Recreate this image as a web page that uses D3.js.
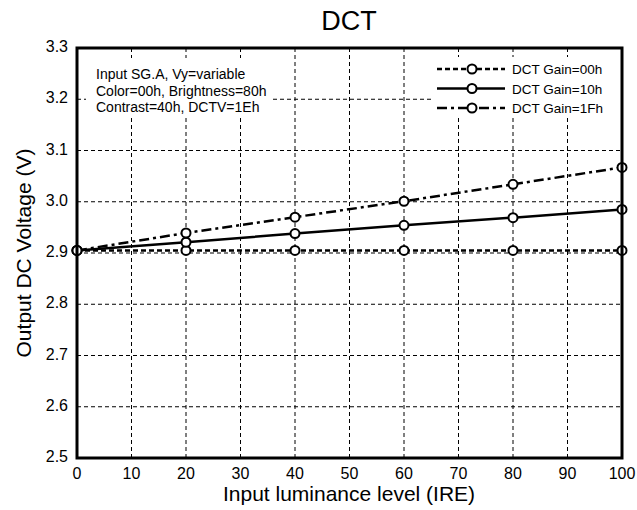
<!DOCTYPE html>
<html>
<head>
<meta charset="utf-8">
<script src="https://cdn.jsdelivr.net/npm/d3@7/dist/d3.min.js"></script>
<style>
  body { margin: 0; background: #fff; }
  text { font-family: "Liberation Sans", Arial, sans-serif; fill: #000; }
</style>
</head>
<body>
<svg id="chart"></svg>
<script>
const width = 637;
const height = 510;
const margin = { top: 48, right: 15, bottom: 52, left: 77 };

// data
const levels = [0, 20, 40, 60, 80, 100];
const gain00 = [2.905, 2.905, 2.905, 2.905, 2.905, 2.905];
const gain10 = [2.905, 2.921, 2.938, 2.954, 2.969, 2.985];
const gain1F = [2.905, 2.939, 2.970, 3.001, 3.034, 3.067];
const seriesNames = ["DCT Gain=00h", "DCT Gain=10h", "DCT Gain=1Fh"];
const xTicks = [0, 10, 20, 30, 40, 50, 60, 70, 80, 90, 100];
const yTicks = [2.5, 2.6, 2.7, 2.8, 2.9, 3.0, 3.1, 3.2, 3.3];
const notes = ["Input SG.A, Vy=variable", "Color=00h, Brightness=80h", "Contrast=40h, DCTV=1Eh"];

const dashes = ["5,3", null, "10,4,3,4"];
const series = [gain00, gain10, gain1F].map((vals, i) => ({
    name: seriesNames[i],
    dash: dashes[i],
    points: levels.map((l, j) => ({ x: l, y: vals[j] }))
}));

const svg = d3.select("#chart")
    .attr("width", width)
    .attr("height", height);

const x = d3.scaleLinear()
    .domain([0, 100])
    .range([margin.left, width - margin.right]);

const y = d3.scaleLinear()
    .domain([2.5, 3.3])
    .range([height - margin.bottom, margin.top]);

// grid
svg.append("g")
    .selectAll("line")
    .data(xTicks.slice(1, -1))
    .join("line")
    .attr("x1", d => x(d)).attr("x2", d => x(d))
    .attr("y1", y(3.3)).attr("y2", y(2.5))
    .attr("stroke", "#000")
    .attr("stroke-width", 1)
    .attr("stroke-dasharray", "4,3");

svg.append("g")
    .selectAll("line")
    .data(yTicks.slice(1, -1))
    .join("line")
    .attr("x1", x(0)).attr("x2", x(100))
    .attr("y1", d => y(d)).attr("y2", d => y(d))
    .attr("stroke", "#000")
    .attr("stroke-width", 1)
    .attr("stroke-dasharray", "4,3");

// tick labels
svg.append("g")
    .selectAll("text")
    .data(xTicks)
    .join("text")
    .attr("x", d => x(d))
    .attr("y", height - margin.bottom + 21)
    .attr("text-anchor", "middle")
    .style("font-size", "16px")
    .text(d => d);

svg.append("g")
    .selectAll("text")
    .data(yTicks)
    .join("text")
    .attr("x", margin.left - 9)
    .attr("y", d => y(d) + 4)
    .attr("text-anchor", "end")
    .style("font-size", "16px")
    .text(d => d.toFixed(1));

// white boxes behind the notes and legend
svg.append("rect")
    .attr("x", 86).attr("y", 58)
    .attr("width", 186).attr("height", 60)
    .attr("fill", "#fff");

svg.append("rect")
    .attr("x", 432).attr("y", 57)
    .attr("width", 188).attr("height", 61)
    .attr("fill", "#fff");

// lines
const line = d3.line().x(d => x(d.x)).y(d => y(d.y));

svg.append("g")
    .selectAll("path")
    .data(series)
    .join("path")
    .attr("d", d => line(d.points))
    .attr("fill", "none")
    .attr("stroke", "#000")
    .attr("stroke-width", 2.5)
    .attr("stroke-dasharray", d => d.dash);

series.forEach(s => {
    svg.append("g")
        .selectAll("circle")
        .data(s.points)
        .join("circle")
        .attr("cx", d => x(d.x))
        .attr("cy", d => y(d.y))
        .attr("r", 4.5)
        .attr("fill", "#fff")
        .attr("stroke", "#000")
        .attr("stroke-width", 2);
});

// frame
svg.append("rect")
    .attr("x", x(0))
    .attr("y", y(3.3))
    .attr("width", x(100) - x(0))
    .attr("height", y(2.5) - y(3.3))
    .attr("fill", "none")
    .attr("stroke", "#000")
    .attr("stroke-width", 3);

// notes
svg.append("g")
    .selectAll("text")
    .data(notes)
    .join("text")
    .attr("x", 96)
    .attr("y", (d, i) => 79 + i * 16.5)
    .style("font-size", "14px")
    .text(d => d);

// legend
const legend = svg.append("g");
series.forEach((s, i) => {
    const ly = 69 + i * 19.5;
    legend.append("line")
        .attr("x1", 437).attr("x2", 505)
        .attr("y1", ly).attr("y2", ly)
        .attr("stroke", "#000")
        .attr("stroke-width", 2.5)
        .attr("stroke-dasharray", s.dash);
    legend.append("circle")
        .attr("cx", 472).attr("cy", ly)
        .attr("r", 4.5)
        .attr("fill", "#fff")
        .attr("stroke", "#000")
        .attr("stroke-width", 2);
    legend.append("text")
        .attr("x", 512)
        .attr("y", ly + 5)
        .style("font-size", "13.5px")
        .text(s.name);
});

// titles
svg.append("text")
    .attr("x", 349)
    .attr("y", 30)
    .attr("text-anchor", "middle")
    .style("font-size", "27px")
    .text("DCT");

svg.append("text")
    .attr("x", 349)
    .attr("y", 501)
    .attr("text-anchor", "middle")
    .style("font-size", "21px")
    .text("Input luminance level (IRE)");

svg.append("text")
    .attr("transform", "rotate(-90)")
    .attr("x", -253)
    .attr("y", 31)
    .attr("text-anchor", "middle")
    .style("font-size", "21px")
    .text("Output DC Voltage (V)");
</script>
</body>
</html>
